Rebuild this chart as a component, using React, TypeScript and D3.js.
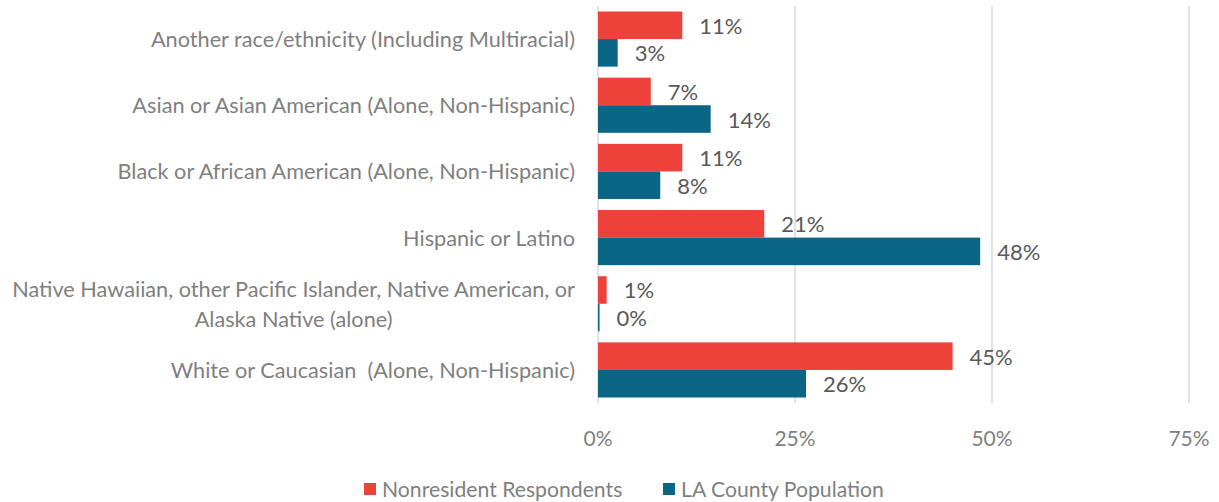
import React, { useEffect, useRef } from 'react';
import * as d3 from 'd3';

const categories = [
  'Another race/ethnicity (Including Multiracial)',
  'Asian or Asian American (Alone, Non-Hispanic)',
  'Black or African American (Alone, Non-Hispanic)',
  'Hispanic or Latino',
  'Native Hawaiian, other Pacific Islander, Native American, or|Alaska Native (alone)',
  'White or Caucasian  (Alone, Non-Hispanic)',
];
const seriesNames = ['Nonresident Respondents', 'LA County Population'];
const nonresident = [10.7, 6.7, 10.7, 21.1, 1.1, 45.0];
const laCounty = [2.5, 14.3, 7.9, 48.5, 0.2, 26.4];
const nonresidentLabels = ['11%', '7%', '11%', '21%', '1%', '45%'];
const laCountyLabels = ['3%', '14%', '8%', '48%', '0%', '26%'];
const xTicks = [0, 25, 50, 75];

const colors = ['#ee4139', '#0b6584'];
const FONT = 'Lato, "Open Sans", sans-serif';

const W = 1219;
const H = 502;

const App: React.FC = () => {
  const svgRef = useRef<SVGSVGElement>(null);

  useEffect(() => {
    if (!svgRef.current) return;
    const svg = d3.select(svgRef.current);
    svg.selectAll('*').remove();

    const left = 598;
    const top = 6;
    const plotW = 591;
    const plotH = 397;

    const x = d3.scaleLinear().domain([0, 75]).range([left, left + plotW]);
    const y0 = d3.scaleBand<number>()
      .domain(d3.range(categories.length))
      .range([top, top + plotH])
      .paddingInner(0.167)
      .paddingOuter(0.083);
    const y1 = d3.scaleBand<number>().domain([0, 1]).range([0, y0.bandwidth()]);

    // gridlines
    svg.append('g')
      .selectAll('line')
      .data(xTicks)
      .join('line')
      .attr('x1', d => x(d))
      .attr('x2', d => x(d))
      .attr('y1', top)
      .attr('y2', top + plotH)
      .attr('stroke', '#d9d9d9')
      .attr('stroke-width', 1.5);

    // tick labels
    svg.append('g')
      .selectAll('text')
      .data(xTicks)
      .join('text')
      .attr('x', d => x(d))
      .attr('y', 437)
      .attr('text-anchor', 'middle')
      .attr('dominant-baseline', 'central')
      .attr('font-family', FONT)
      .attr('font-size', 21)
      .attr('fill', '#7f7f7f')
      .text(d => `${d}%`);

    const series = [nonresident, laCounty];
    const labels = [nonresidentLabels, laCountyLabels];

    series.forEach((vals, si) => {
      const g = svg.append('g');
      g.selectAll('rect')
        .data(vals)
        .join('rect')
        .attr('x', x(0))
        .attr('y', (_, i) => (y0(i) as number) + (y1(si) as number))
        .attr('width', d => x(d) - x(0))
        .attr('height', y1.bandwidth())
        .attr('fill', colors[si]);
      g.selectAll('text')
        .data(vals)
        .join('text')
        .attr('x', d => x(d) + 17)
        .attr('y', (_, i) => (y0(i) as number) + (y1(si) as number) + y1.bandwidth() / 2)
        .attr('dominant-baseline', 'central')
        .attr('font-family', FONT)
        .attr('font-size', 22)
        .attr('fill', '#595959')
        .text((_, i) => labels[si][i]);
    });

    // category labels
    const labelRight = 575;
    const catSize = 21.7;
    categories.forEach((c, i) => {
      const cy = (y0(i) as number) + y0.bandwidth() / 2;
      const lines = c.split('|');
      if (lines.length === 1) {
        svg.append('text')
          .attr('x', labelRight)
          .attr('y', cy)
          .attr('text-anchor', 'end')
          .attr('dominant-baseline', 'central')
          .attr('font-family', FONT)
          .attr('font-size', catSize)
          .attr('fill', '#7f7f7f')
          .style('white-space', 'pre')
          .text(c);
      } else {
        const first = svg.append('text')
          .attr('x', labelRight)
          .attr('y', cy - 15)
          .attr('text-anchor', 'end')
          .attr('dominant-baseline', 'central')
          .attr('font-family', FONT)
          .attr('font-size', catSize)
          .attr('fill', '#7f7f7f')
          .text(lines[0]);
        const w = (first.node() as SVGTextElement).getComputedTextLength();
        svg.append('text')
          .attr('x', labelRight - w / 2)
          .attr('y', cy + 15)
          .attr('text-anchor', 'middle')
          .attr('dominant-baseline', 'central')
          .attr('font-family', FONT)
          .attr('font-size', catSize)
          .attr('fill', '#7f7f7f')
          .text(lines[1]);
      }
    });

    // legend
    const legendX = [364, 663];
    seriesNames.forEach((name, i) => {
      const g = svg.append('g').attr('transform', `translate(${legendX[i]},489)`);
      g.append('rect')
        .attr('x', 0)
        .attr('y', -6)
        .attr('width', 12)
        .attr('height', 12)
        .attr('fill', colors[i]);
      g.append('text')
        .attr('x', 18)
        .attr('y', 0)
        .attr('dominant-baseline', 'central')
        .attr('font-family', FONT)
        .attr('font-size', 21.2)
        .attr('fill', '#7f7f7f')
        .text(name);
    });
  }, []);

  return (
    <svg
      ref={svgRef}
      width={W}
      height={H}
      style={{ position: 'absolute', left: 0, top: 0, background: '#fff' }}
    />
  );
};

export default App;
